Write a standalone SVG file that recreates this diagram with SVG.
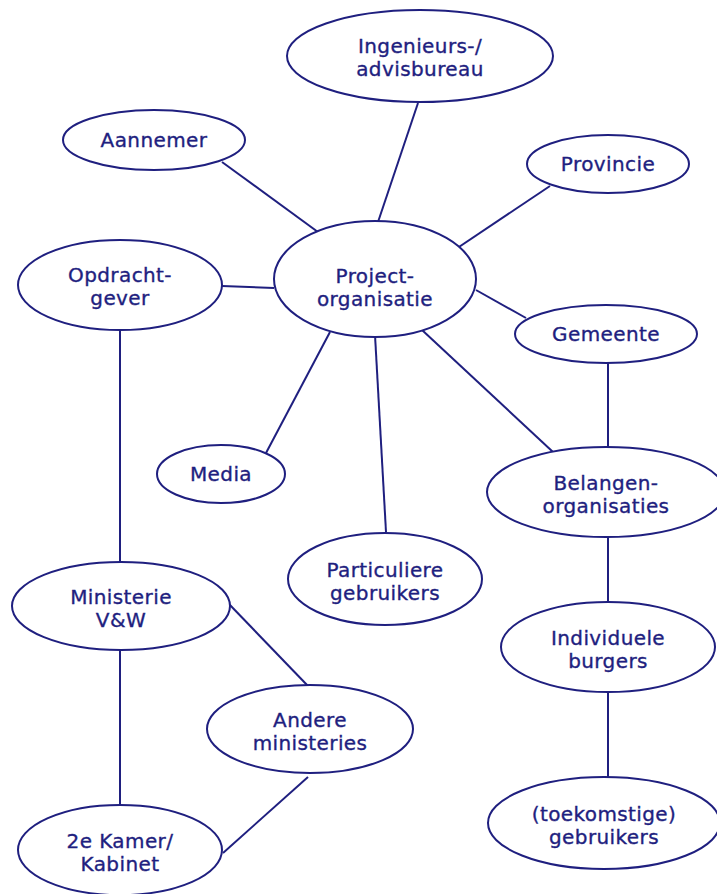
<svg xmlns="http://www.w3.org/2000/svg" width="717" height="894" viewBox="0 0 717 894">
  <style>
    .node ellipse { fill: #ffffff; stroke: #1f1f7f; stroke-width: 2; }
    .node text { font-family: "DejaVu Sans", Verdana, sans-serif; font-size: 20px; letter-spacing: 0.4px; fill: #1f1f7f; stroke: #1f1f7f; stroke-width: 0.35; text-anchor: middle; }
    #connectors line { stroke: #1f1f7f; stroke-width: 2; }
  </style>
  <rect width="717" height="894" fill="#ffffff"/>

  <g id="connectors">
    <line x1="418" y1="103" x2="376" y2="228"/>
    <line x1="222" y1="162" x2="333" y2="243"/>
    <line x1="550" y1="186" x2="447" y2="255"/>
    <line x1="222" y1="286" x2="274" y2="288"/>
    <line x1="476" y1="290" x2="526" y2="318"/>
    <line x1="330" y1="332" x2="266" y2="453"/>
    <line x1="375" y1="335" x2="386" y2="532"/>
    <line x1="422" y1="330" x2="553" y2="452"/>
    <line x1="608" y1="362" x2="608" y2="448"/>
    <line x1="120" y1="330" x2="120" y2="562"/>
    <line x1="120" y1="650" x2="120" y2="806"/>
    <line x1="229" y1="604" x2="308" y2="686"/>
    <line x1="308" y1="777" x2="223" y2="853"/>
    <line x1="608" y1="537" x2="608" y2="602"/>
    <line x1="608" y1="692" x2="608" y2="778"/>
  </g>

  <g id="ingenieurs" class="node">
    <ellipse cx="420" cy="56" rx="133" ry="46"/>
    <text x="420" y="53">Ingenieurs-/</text>
    <text x="420" y="76">advisbureau</text>
  </g>
  <g id="aannemer" class="node">
    <ellipse cx="154" cy="140" rx="91" ry="30"/>
    <text x="154" y="147">Aannemer</text>
  </g>
  <g id="provincie" class="node">
    <ellipse cx="608" cy="164" rx="81" ry="29"/>
    <text x="608" y="171">Provincie</text>
  </g>
  <g id="opdrachtgever" class="node">
    <ellipse cx="120" cy="285" rx="102" ry="45"/>
    <text x="120" y="282">Opdracht-</text>
    <text x="120" y="305">gever</text>
  </g>
  <g id="projectorganisatie" class="node">
    <ellipse cx="375" cy="279" rx="101" ry="58"/>
    <text x="375" y="283">Project-</text>
    <text x="375" y="306">organisatie</text>
  </g>
  <g id="gemeente" class="node">
    <ellipse cx="606" cy="334" rx="91" ry="29"/>
    <text x="606" y="341">Gemeente</text>
  </g>
  <g id="media" class="node">
    <ellipse cx="221" cy="474" rx="64" ry="29"/>
    <text x="221" y="481">Media</text>
  </g>
  <g id="belangenorganisaties" class="node">
    <ellipse cx="606" cy="492" rx="119" ry="45"/>
    <text x="606" y="490">Belangen-</text>
    <text x="606" y="513">organisaties</text>
  </g>
  <g id="particuliere" class="node">
    <ellipse cx="385" cy="579" rx="97" ry="46"/>
    <text x="385" y="577">Particuliere</text>
    <text x="385" y="600">gebruikers</text>
  </g>
  <g id="ministerie" class="node">
    <ellipse cx="121" cy="606" rx="109" ry="44"/>
    <text x="121" y="604">Ministerie</text>
    <text x="121" y="627">V&amp;W</text>
  </g>
  <g id="individuele" class="node">
    <ellipse cx="608" cy="647" rx="107" ry="45"/>
    <text x="608" y="645">Individuele</text>
    <text x="608" y="668">burgers</text>
  </g>
  <g id="andere" class="node">
    <ellipse cx="310" cy="729" rx="103" ry="44"/>
    <text x="310" y="727">Andere</text>
    <text x="310" y="750">ministeries</text>
  </g>
  <g id="kamer" class="node">
    <ellipse cx="120" cy="850" rx="102" ry="45"/>
    <text x="120" y="848">2e Kamer/</text>
    <text x="120" y="871">Kabinet</text>
  </g>
  <g id="toekomstige" class="node">
    <ellipse cx="604" cy="823" rx="116" ry="46"/>
    <text x="604" y="821">(toekomstige)</text>
    <text x="604" y="844">gebruikers</text>
  </g>
</svg>
